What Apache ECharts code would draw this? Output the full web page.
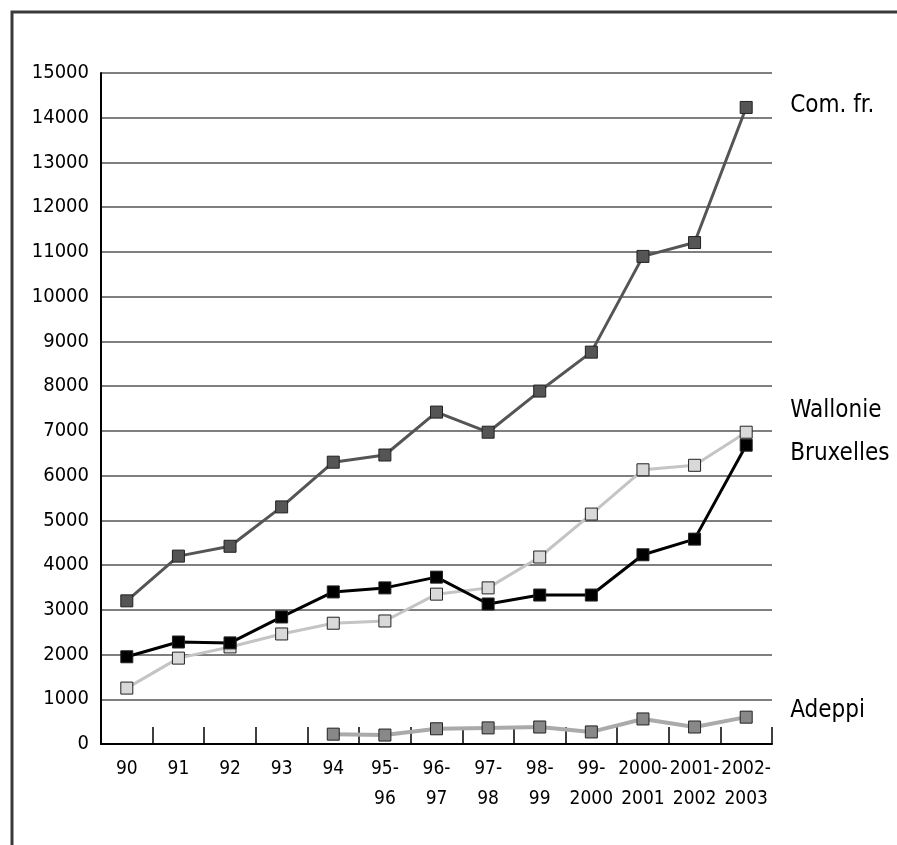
<!DOCTYPE html>
<html><head><meta charset="utf-8">
<script src="https://cdn.jsdelivr.net/npm/echarts@6/dist/echarts.min.js"></script>
<style>html,body{margin:0;padding:0;background:#fff}#c{width:897px;height:845px}</style>
</head><body><div id="c"></div>
<script>
const categories = ['90','91','92','93','94','95-\n96','96-\n97','97-\n98','98-\n99','99-\n2000','2000-\n2001','2001-\n2002','2002-\n2003'];
const comFr     = [3200,4200,4420,5300,6300,6460,7420,6970,7890,8760,10900,11210,14230];
const wallonie  = [1250,1920,2170,2460,2700,2750,3350,3490,4180,5140,6130,6230,6970];
const bruxelles = [1950,2280,2260,2840,3400,3490,3730,3130,3330,3330,4230,4580,6680];
const adeppi    = [null,null,null,null,220,200,340,360,380,270,560,380,600];
const yTicks = {min:0, max:15000, interval:1000};

const FONT = "'Liberation Sans Narrow','DejaVu Sans',sans-serif";
const WEIGHT = 'condensed';
function series(name, data, lineColor, fill, lineWidth, offsetY){
  return {
    name, type:'line', data, symbol:'rect', symbolSize:12, z: 3,
    lineStyle:{color:lineColor, width:lineWidth},
    itemStyle:{color:fill, borderColor:'#222', borderWidth:1},
    emphasis:{disabled:true},
    endLabel:{show:true, formatter:name, distance:44, offset:[0,offsetY],
      fontFamily:FONT, fontWeight:WEIGHT, fontSize:24, color:'#000'}
  };
}
const chart = echarts.init(document.getElementById('c'), null, {renderer:'canvas'});
chart.setOption({
  animation:false,
  grid:{left:101, right:125, top:73, bottom:101},
  graphic:[{type:'polyline', shape:{points:[[12,845],[12,12],[897,12]]},
    style:{stroke:'#3a3a3a', lineWidth:3, fill:null}}],
  xAxis:{type:'category', data:categories, boundaryGap:true,
    axisLine:{lineStyle:{color:'#000', width:2}},
    axisTick:{show:true, inside:true, length:17, lineStyle:{color:'#000', width:1.5}},
    axisLabel:{interval:0, fontFamily:FONT, fontWeight:WEIGHT, fontSize:19, color:'#000', lineHeight:30, margin:10}},
  yAxis:{type:'value', min:yTicks.min, max:yTicks.max, interval:yTicks.interval,
    axisLine:{show:true, lineStyle:{color:'#000', width:2}},
    axisTick:{show:false},
    splitLine:{lineStyle:{color:'#555', width:1.5}},
    axisLabel:{fontFamily:FONT, fontWeight:WEIGHT, fontSize:20, color:'#000', margin:12,
      formatter: v => String(v)}},
  series:[
    series('Com. fr.', comFr, '#555', '#555', 3, -2),
    series('Wallonie', wallonie, '#c4c4c4', '#d9d9d9', 3, -21),
    series('Bruxelles', bruxelles, '#000', '#000', 3, 9),
    series('Adeppi', adeppi, '#aaa', '#888', 4, -6)
  ]
});
</script></body></html>
